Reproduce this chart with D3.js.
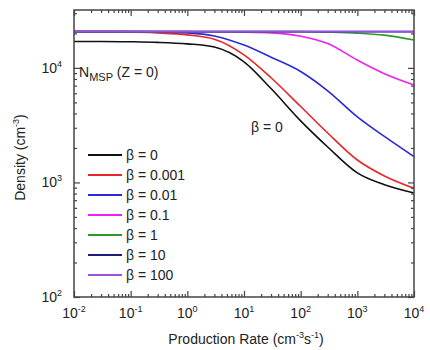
<!DOCTYPE html>
<meta charset="utf-8">
<head>
    <title></title>
    <script src="https://cdn.jsdelivr.net/npm/d3@7/dist/d3.min.js"></script>
</head>
<style>
    body{ margin:0; background:#fff; }
    text{
      font-family: Arial, "Liberation Sans", sans-serif;
      font-size:14px;
      fill:#222;
    }
</style>
<svg width="430" height="350"></svg>
<script>
    // production rate (cm^-3 s^-1)
    var rates = [0.01, 0.03, 0.1, 0.3, 1, 3, 10, 30, 100, 300, 1000, 3000, 10000];

    // density (cm^-3) for each beta
    var beta0     = [17000, 17000, 16900, 16700, 16200, 15200, 11300, 6600, 3450, 2040, 1210, 955, 810];
    var beta0001  = [20700, 20700, 20600, 20200, 19400, 17800, 13000, 8200, 4600, 2700, 1570, 1140, 890];
    var beta001   = [20700, 20700, 20700, 20600, 20200, 19000, 15800, 12400, 9300, 6300, 3730, 2520, 1680];
    var beta01    = [20700, 20700, 20700, 20700, 20700, 20600, 20500, 20200, 18900, 16300, 11700, 8900, 7100];
    var beta1     = [20700, 20700, 20700, 20700, 20700, 20700, 20700, 20700, 20700, 20500, 20100, 19300, 17500];
    var beta10    = [20700, 20700, 20700, 20700, 20700, 20700, 20700, 20700, 20700, 20700, 20700, 20700, 20700];
    var beta100   = [20700, 20700, 20700, 20700, 20700, 20700, 20700, 20700, 20700, 20700, 20700, 20700, 20700];

    var seriesNames  = ['\u03b2 = 0', '\u03b2 = 0.001', '\u03b2 = 0.01', '\u03b2 = 0.1', '\u03b2 = 1', '\u03b2 = 10', '\u03b2 = 100'];
    var seriesValues = [beta0, beta0001, beta001, beta01, beta1, beta10, beta100];
    var seriesColors = ['#111111', '#e8262a', '#2a2ad6', '#ee22ee', '#2a9a2a', '#1c1c7a', '#9a50e0'];

    var xTicks = [-2, -1, 0, 1, 2, 3, 4];   // exponents
    var yTicks = [2, 3, 4];

    var pL = 74, pR = 414, pT = 10, pB = 297;

    var x = d3.scaleLog().domain([1e-2, 1e4]).range([pL, pR]),
        y = d3.scaleLog().domain([100, 32000]).range([pB, pT]);

    var svg = d3.select('svg');

    // curves
    var line = d3.line()
        .curve(d3.curveMonotoneX)
        .x(function(d){ return x(d[0]); })
        .y(function(d){ return y(d[1]); });

    var plot = svg.append('g');
    seriesValues.forEach(function(vals, i){
        plot.append('path')
            .datum(rates.map(function(r, j){ return [r, vals[j]]; }))
            .attr('d', line)
            .style('fill', 'none')
            .style('stroke', seriesColors[i])
            .style('stroke-width', 1.6);
    });

    // frame
    svg.append('rect')
        .attr('x', pL).attr('y', pT)
        .attr('width', pR - pL).attr('height', pB - pT)
        .style('fill', 'none').style('stroke', '#444').style('stroke-width', 1.5);

    function minorTicks(scale){
        return scale.ticks().filter(function(v){
            var e = Math.log10(v);
            return Math.abs(e - Math.round(e)) > 1e-6;
        });
    }
    var majorX = xTicks.map(function(e){ return Math.pow(10, e); }),
        majorY = yTicks.map(function(e){ return Math.pow(10, e); });

    // x axis ticks (bottom and top, pointing inward)
    [[pB, d3.axisBottom], [pT, d3.axisTop]].forEach(function(a){
        var gm = svg.append('g').attr('transform', 'translate(0,' + a[0] + ')')
            .call(a[1](x).tickValues(minorTicks(x)).tickSize(-3).tickFormat(''));
        var gM = svg.append('g').attr('transform', 'translate(0,' + a[0] + ')')
            .call(a[1](x).tickValues(majorX).tickSize(-6).tickFormat(''));
        [gm, gM].forEach(function(g){
            g.select('.domain').remove();
            g.selectAll('line').style('stroke', '#444').style('stroke-width', 1.2);
        });
    });

    // y axis ticks (left and right, pointing inward)
    [[pL, d3.axisLeft], [pR, d3.axisRight]].forEach(function(a){
        var gm = svg.append('g').attr('transform', 'translate(' + a[0] + ',0)')
            .call(a[1](y).tickValues(minorTicks(y)).tickSize(-3).tickFormat(''));
        var gM = svg.append('g').attr('transform', 'translate(' + a[0] + ',0)')
            .call(a[1](y).tickValues(majorY).tickSize(-6).tickFormat(''));
        [gm, gM].forEach(function(g){
            g.select('.domain').remove();
            g.selectAll('line').style('stroke', '#444').style('stroke-width', 1.2);
        });
    });

    // x tick labels
    svg.append('g').selectAll('text').data(xTicks).enter().append('text')
        .attr('x', function(d){ return x(Math.pow(10, d)); })
        .attr('y', pB + 21)
        .attr('text-anchor', 'middle')
        .each(function(d){
            var t = d3.select(this);
            t.append('tspan').text('10');
            t.append('tspan').attr('dy', -6).style('font-size', '9px').text(d);
        });

    // y tick labels
    svg.append('g').selectAll('text').data(yTicks).enter().append('text')
        .attr('x', pL - 12)
        .attr('y', function(d){ return y(Math.pow(10, d)) + 5; })
        .attr('text-anchor', 'end')
        .each(function(d){
            var t = d3.select(this);
            t.append('tspan').text('10');
            t.append('tspan').attr('dy', -6).style('font-size', '9px').text(d);
        });

    // axis titles
    var xt = svg.append('text')
        .attr('x', (pL + pR) / 2 + 2)
        .attr('y', 344)
        .attr('text-anchor', 'middle');
    xt.append('tspan').text('Production Rate (cm');
    xt.append('tspan').attr('dy', -6).style('font-size', '9px').text('-3');
    xt.append('tspan').attr('dy', 6).text('s');
    xt.append('tspan').attr('dy', -6).style('font-size', '9px').text('-1');
    xt.append('tspan').attr('dy', 6).text(')');

    var yt = svg.append('text')
        .attr('transform', 'translate(25,' + ((pT + pB) / 2 + 4) + ') rotate(-90)')
        .attr('text-anchor', 'middle');
    yt.append('tspan').text('Density (cm');
    yt.append('tspan').attr('dy', -6).style('font-size', '9px').text('-3');
    yt.append('tspan').attr('dy', 6).text(')');

    // annotations
    var nm = svg.append('text').attr('x', 79).attr('y', 77);
    nm.append('tspan').text('N');
    nm.append('tspan').attr('dy', 4).style('font-size', '11px').text('MSP');
    nm.append('tspan').attr('dy', -4).text(' (Z = 0)');

    svg.append('text').attr('x', 251).attr('y', 132).text('\u03b2 = 0');

    // legend
    var legend = svg.append('g').selectAll('g').data(seriesNames).enter().append('g')
        .attr('transform', function(d, i){ return 'translate(88,' + (155 + i * 20) + ')'; });
    legend.append('line')
        .attr('x1', 0).attr('x2', 34)
        .style('stroke', function(d, i){ return seriesColors[i]; })
        .style('stroke-width', 2);
    legend.append('text')
        .attr('x', 38).attr('y', 5)
        .text(function(d){ return d; });
</script>
